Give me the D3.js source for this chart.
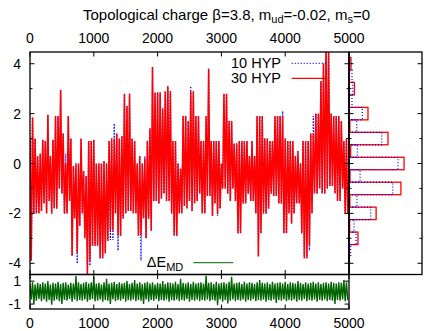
<!DOCTYPE html>
<html><head><meta charset="utf-8">
<script src="https://cdn.jsdelivr.net/npm/d3@7"></script>
<style>body{margin:0;background:#fff}svg{display:block;font-family:"Liberation Sans",Arial,sans-serif}</style>
</head><body><svg id="c" width="431" height="331"></svg>
<script>
// ---- data ----
const trajStep = 40;               // trajectories per segment
// 30 HYP topological charge: upper / lower excursion in each 40-trajectory segment
const q30Hi = [1.0,1.85,1.0,0.3,0.4,0.95,0.9,1.95,0.3,0.95,
 1.9,1.9,2.95,1.2,0.0,1.9,1.0,-0.1,0.0,0.0,
 1.0,-0.3,-0.5,0.9,0.9,0.95,0.0,0.0,0.0,0.1,
 0.0,0.9,1.0,1.0,1.2,1.0,1.1,2.8,2.3,2.8,
 1.0,0.9,0.0,0.3,0.0,0.2,0.9,1.4,3.87,2.85,
 2.85,2.85,2.2,2.9,3.1,2.9,0.9,0.9,0.0,-0.2,
 1.9,1.9,1.7,2.9,2.9,1.9,1.9,0.9,0.9,1.9,
 3.8,0.9,0.9,0.9,0.9,0.0,2.8,2.8,1.7,1.7,
 0.8,0.8,0.9,0.9,0.9,0.9,0.3,0.9,0.3,1.9,
 1.9,1.9,1.0,1.0,0.9,0.9,1.9,1.9,1.9,1.9,
 1.0,0.9,0.9,0.9,0.3,0.5,0.0,0.9,0.9,0.9,
 1.2,1.2,2.0,2.0,3.3,4.0,4.6,4.6,2.0,1.9,
 1.9,1.9,1.7,0.9,1.0];
const q30Lo = [-3.9,-2.0,-2.0,-2.0,-1.9,-1.6,-2.0,-1.5,-2.0,-1.8,
 -1.8,-1.0,-1.2,-2.0,-2.0,-1.5,-3.7,-2.2,-3.6,-2.5,
 -2.0,-3.0,-4.45,-3.9,-3.3,-3.3,-3.3,-3.8,-3.8,-3.6,
 -3.1,-2.7,-2.7,-2.0,-2.9,-2.9,-2.2,-2.0,-1.9,-1.9,
 -2.0,-2.0,-2.9,-2.9,-2.2,-3.0,-2.2,-2.7,-1.5,-1.5,
 -1.6,-1.4,-1.2,-1.5,-1.5,-2.0,-2.9,-2.9,-2.0,-2.0,
 -1.7,-1.8,-1.5,-1.9,-1.6,-1.5,-1.2,-2.0,-2.0,-1.3,
 -1.3,-2.1,-1.6,-2.0,-1.8,-1.0,-1.0,-1.2,-1.5,-1.0,
 -1.5,-2.8,-2.8,-1.6,-1.6,-1.2,-1.5,-1.5,-2.0,-3.73,
 -2.8,-2.0,-2.0,-1.8,-1.2,-1.3,-1.3,-1.6,-1.6,-2.8,
 -2.8,-2.0,-2.4,-2.0,-1.6,-1.6,-2.8,-3.8,-3.8,-3.3,
 -2.0,-1.2,-1.2,-1.0,-1.2,-1.2,-1.0,-0.9,-0.9,-1.2,
 -1.5,-1.5,-1.0,-2.0,-2.0];
// 10 HYP topological charge
const q10Hi = [1.0,1.85,1.0,0.3,0.4,0.95,0.9,1.95,0.3,0.95,
 1.9,1.9,2.95,1.2,0.4,1.9,1.0,-0.1,0.0,0.0,
 1.0,-0.3,-0.5,0.9,0.9,0.95,0.0,0.0,0.0,0.1,
 0.0,0.9,1.0,1.6,1.2,1.0,1.1,2.8,2.3,2.8,
 1.0,0.9,0.0,0.3,0.0,0.3,0.9,1.4,3.87,2.85,
 2.85,2.85,2.2,2.9,3.1,2.9,0.9,0.9,0.0,-0.2,
 1.9,1.9,1.7,3.1,2.9,1.9,1.9,0.9,0.9,1.9,
 3.8,0.9,0.9,0.9,0.9,0.0,2.8,2.8,1.7,1.7,
 0.8,0.8,0.9,0.9,0.9,0.9,0.3,0.9,0.3,1.9,
 1.9,1.9,1.0,1.0,0.9,0.9,1.9,1.9,1.9,2.1,
 1.0,0.9,0.9,0.9,0.3,0.5,0.0,0.9,0.9,0.9,
 1.2,1.9,2.0,2.0,3.3,4.0,4.6,4.6,2.0,1.9,
 1.9,1.9,1.7,0.9,1.0];
const q10Lo = [-3.9,-2.0,-2.0,-2.0,-1.9,-1.6,-2.0,-1.5,-2.0,-1.8,
 -1.8,-1.0,-1.2,-2.0,-2.0,-1.5,-3.7,-2.2,-4.0,-2.5,
 -2.0,-3.0,-4.45,-4.1,-3.3,-3.3,-3.3,-3.8,-3.8,-3.6,
 -3.1,-3.07,-3.07,-2.0,-3.5,-2.9,-2.2,-2.0,-1.9,-1.9,
 -2.0,-2.0,-2.9,-3.9,-2.2,-3.0,-2.2,-2.7,-1.5,-1.5,
 -1.6,-1.4,-1.2,-1.5,-1.5,-2.0,-2.9,-2.9,-2.0,-2.0,
 -1.7,-1.8,-1.5,-1.9,-1.6,-1.5,-1.2,-2.0,-2.0,-1.3,
 -1.3,-2.1,-1.6,-2.1,-1.8,-1.0,-1.0,-1.2,-1.5,-1.0,
 -1.5,-2.8,-2.8,-1.6,-1.6,-1.2,-1.5,-1.5,-2.0,-3.73,
 -2.8,-2.0,-2.0,-1.8,-1.2,-1.3,-1.3,-1.6,-1.6,-2.8,
 -2.8,-2.0,-2.4,-2.0,-1.6,-1.6,-2.8,-3.8,-3.8,-3.5,
 -2.0,-1.2,-1.2,-1.0,-1.2,-1.2,-1.0,-0.9,-0.9,-1.2,
 -1.5,-1.5,-1.0,-2.0,-2.0];
// Delta E_MD
const dEHi = [0.8,0.9,0.7,0.85,0.75,0.9,0.8,1.0,0.7,0.85,
 0.8,0.95,0.75,0.85,0.9,0.7,0.85,0.8,1.45,0.9,
 0.75,0.85,0.95,0.8,0.9,1.4,0.8,0.85,0.7,0.9,
 1.2,0.8,0.85,0.95,0.75,0.9,0.8,0.85,1.0,0.75,
 0.85,1.1,0.8,0.9,0.75,0.85,0.95,0.8,0.9,0.7,
 0.85,0.8,1.0,0.75,0.9,0.85,0.8,0.95,0.75,1.2,
 0.85,0.8,0.9,0.75,0.95,0.8,0.85,0.9,0.8,1.46,
 0.85,0.9,0.75,0.95,0.8,0.85,0.9,0.8,0.95,1.37,
 0.8,0.85,0.9,0.75,0.95,0.8,0.9,0.85,0.75,0.9,
 1.1,0.85,0.8,0.9,0.75,0.95,0.8,0.85,0.9,0.8,
 0.95,0.75,0.9,0.85,0.8,1.0,0.85,0.75,0.9,0.8,
 0.85,0.95,0.8,0.9,0.75,0.85,0.9,0.8,0.95,0.85,
 0.8,0.9,0.85,1.1,0.9];
const dELo = [-0.6,-1.0,-0.7,-0.55,-0.75,-0.6,-0.8,-0.65,-1.05,-0.7,
 -0.6,-0.75,-1.0,-0.65,-0.7,-0.55,-0.8,-0.6,-0.75,-0.65,
 -0.7,-0.6,-0.8,-0.65,-0.55,-0.75,-0.7,-0.6,-0.8,-0.65,
 -0.7,-1.0,-0.6,-0.75,-0.65,-0.7,-0.55,-0.8,-0.65,-0.7,
 -0.6,-0.75,-0.65,-0.7,-1.0,-0.6,-0.8,-0.65,-0.7,-0.55,
 -0.75,-0.65,-0.7,-0.6,-0.8,-0.65,-0.7,-0.6,-0.75,-0.65,
 -0.7,-0.55,-0.8,-0.65,-0.7,-0.6,-0.75,-0.65,-0.7,-0.6,
 -0.75,-0.65,-0.7,-1.1,-0.6,-0.8,-0.65,-0.95,-0.7,-0.6,
 -0.75,-0.65,-0.7,-0.6,-0.8,-0.65,-0.7,-0.55,-0.75,-0.65,
 -0.7,-0.6,-0.8,-0.65,-0.7,-0.6,-0.9,-0.65,-0.7,-0.6,
 -0.75,-0.65,-0.7,-0.6,-0.8,-0.65,-0.7,-0.55,-0.75,-0.65,
 -0.7,-0.6,-0.8,-0.65,-0.7,-0.6,-0.75,-0.65,-0.7,-1.0,
 -0.65,-0.7,-0.6,-0.75,-0.65];
// histograms of Q (bin width 0.5)
const histBins = [4,3.5,3,2.5,2,1.5,1,0.5,0,-0.5,-1,-1.5,-2,-2.5,-3,-3.5,-4];
const hist30 = [48,10,130,10,455,20,935,40,1320,25,1245,20,650,15,215,10,5];
const hist10 = [25,72,90,72,320,185,785,200,1175,265,1050,190,520,120,170,40,12];
const xTicks = [0,1000,2000,3000,4000,5000];
const qMajor = [-4,-2,0,2,4];
const qMinor = [-3,-1,1,3];
const dETicks = [-1,1];

// ---- layout ----
const svg = d3.select("#c");
const L = 30, R = 349, T = 52, B = 274.5, B2 = 309, HR = 422;
const x = d3.scaleLinear().domain([0,5000]).range([L,R]);
const y = d3.scaleLinear().domain([-4.45,4.47]).range([B,T]);
const y2 = d3.scaleLinear().domain([-1.43,1.58]).range([B2,B]);
const xh = d3.scaleLinear().domain([0,1750]).range([R,HR]);

const defs = svg.append("defs");
defs.append("clipPath").attr("id","cm").append("rect").attr("x",L).attr("y",T).attr("width",R-L).attr("height",B-T);
defs.append("clipPath").attr("id","cb").append("rect").attr("x",L).attr("y",B).attr("width",R-L).attr("height",B2-B);

function zig(hi, lo){
  const pts = [];
  hi.forEach((h,i)=>{ pts.push([i*trajStep, h]); pts.push([i*trajStep+trajStep/2, lo[i]]); });
  return pts;
}
const lineQ = d3.line().x(d=>x(d[0])).y(d=>y(d[1]));
const lineE = d3.line().x(d=>x(d[0])).y(d=>y2(d[1]));

const gm = svg.append("g").attr("clip-path","url(#cm)");
gm.append("path").attr("d",lineQ(zig(q10Hi,q10Lo))).attr("fill","none")
  .attr("stroke","#0000ff").attr("stroke-width",1.3).attr("stroke-dasharray","1,2");
gm.append("path").attr("d",lineQ(zig(q30Hi,q30Lo))).attr("fill","none")
  .attr("stroke","#ff0000").attr("stroke-width",1.5).attr("stroke-linejoin","miter").attr("stroke-miterlimit",3);

svg.append("g").attr("clip-path","url(#cb)").append("path").attr("d",lineE(zig(dEHi,dELo)))
  .attr("fill","none").attr("stroke","#006400").attr("stroke-width",1.4).attr("stroke-miterlimit",3);

// histogram
const gh = svg.append("g");
gh.selectAll("rect.r").data(histBins).join("rect").attr("class","r")
  .attr("x",xh(0)).attr("y",d=>y(d+0.25)).attr("height",d=>y(d-0.25)-y(d+0.25))
  .attr("width",(d,i)=>xh(hist30[i])-xh(0)).attr("fill","none").attr("stroke","#ff0000").attr("stroke-width",1.3);
gh.selectAll("rect.b").data(histBins).join("rect").attr("class","b")
  .attr("x",xh(0)).attr("y",d=>y(d+0.25)).attr("height",d=>y(d-0.25)-y(d+0.25))
  .attr("width",(d,i)=>xh(hist10[i])-xh(0)).attr("fill","none").attr("stroke","#0000ff").attr("stroke-width",1.2).attr("stroke-dasharray","1,2");

// frames
const fr = svg.append("g").attr("fill","none").attr("stroke","#000").attr("stroke-width",1.3);
fr.append("rect").attr("x",L).attr("y",T).attr("width",R-L).attr("height",B-T);
fr.append("rect").attr("x",L).attr("y",B).attr("width",R-L).attr("height",B2-B);
fr.append("rect").attr("x",R).attr("y",T).attr("width",HR-R).attr("height",B-T);

// ticks
const tk = svg.append("g").attr("stroke","#000").attr("stroke-width",1);
function tick(x1,y1,x2,y2){ tk.append("line").attr("x1",x1).attr("y1",y1).attr("x2",x2).attr("y2",y2); }
xTicks.forEach(t=>{ const xx=x(t); tick(xx,T,xx,T+4.5); tick(xx,B,xx,B-4.5); tick(xx,B,xx,B+4.5); tick(xx,B2,xx,B2-4.5); });
qMajor.forEach(q=>{ const yy=y(q); tick(L,yy,L+4.5,yy); tick(R,yy,R-4.5,yy); tick(R,yy,R+4.5,yy); tick(HR,yy,HR-4.5,yy); });
qMinor.forEach(q=>{ const yy=y(q); tick(L,yy,L+2.5,yy); tick(R,yy,R-2.5,yy); tick(R,yy,R+2.5,yy); tick(HR,yy,HR-2.5,yy); });
dETicks.forEach(e=>{ const yy=y2(e); tick(L,yy,L+4.5,yy); tick(R,yy,R-4.5,yy); });

// labels
const txt = svg.append("g").attr("font-size",14).attr("fill","#000");
xTicks.forEach(t=>{
  txt.append("text").attr("x",x(t)).attr("y",42.7).attr("text-anchor","middle").text(t);
  txt.append("text").attr("x",x(t)).attr("y",328.3).attr("text-anchor","middle").text(t);
});
qMajor.forEach(q=>txt.append("text").attr("x",21).attr("y",y(q)).attr("dy","0.36em").attr("text-anchor","end").text(q));
dETicks.forEach(e=>txt.append("text").attr("x",21).attr("y",y2(e)).attr("dy","0.36em").attr("text-anchor","end").text(e));

// title
const tt = txt.append("text").attr("x",226.5).attr("y",19.5).attr("text-anchor","middle").attr("font-size",15);
tt.append("tspan").text("Topological charge β=3.8, m");
tt.append("tspan").attr("dy",3.2).attr("font-size",11).text("ud");
tt.append("tspan").attr("dy",-3.2).text("=-0.02, m");
tt.append("tspan").attr("dy",3.2).attr("font-size",11).text("s");
tt.append("tspan").attr("dy",-3.2).text("=0");

// legends
txt.append("text").attr("x",281).attr("y",68.3).attr("text-anchor","end").attr("font-size",14.5).text("10 HYP");
txt.append("text").attr("x",281).attr("y",83.3).attr("text-anchor","end").attr("font-size",14.5).text("30 HYP");
svg.append("line").attr("x1",291.7).attr("x2",327).attr("y1",63.3).attr("y2",63.3)
  .attr("stroke","#0000ff").attr("stroke-width",1.2).attr("stroke-dasharray","1,2");
svg.append("line").attr("x1",291.7).attr("x2",327).attr("y1",78.3).attr("y2",78.3)
  .attr("stroke","#ff0000").attr("stroke-width",1.2);
const le = txt.append("text").attr("x",183.3).attr("y",267.3).attr("text-anchor","end").attr("font-size",14.5);
le.append("tspan").text("ΔE");
le.append("tspan").attr("dy",3.4).attr("font-size",11).text("MD");
svg.append("line").attr("x1",193.3).attr("x2",233.3).attr("y1",262.7).attr("y2",262.7)
  .attr("stroke","#006400").attr("stroke-width",1);
</script></body></html>
